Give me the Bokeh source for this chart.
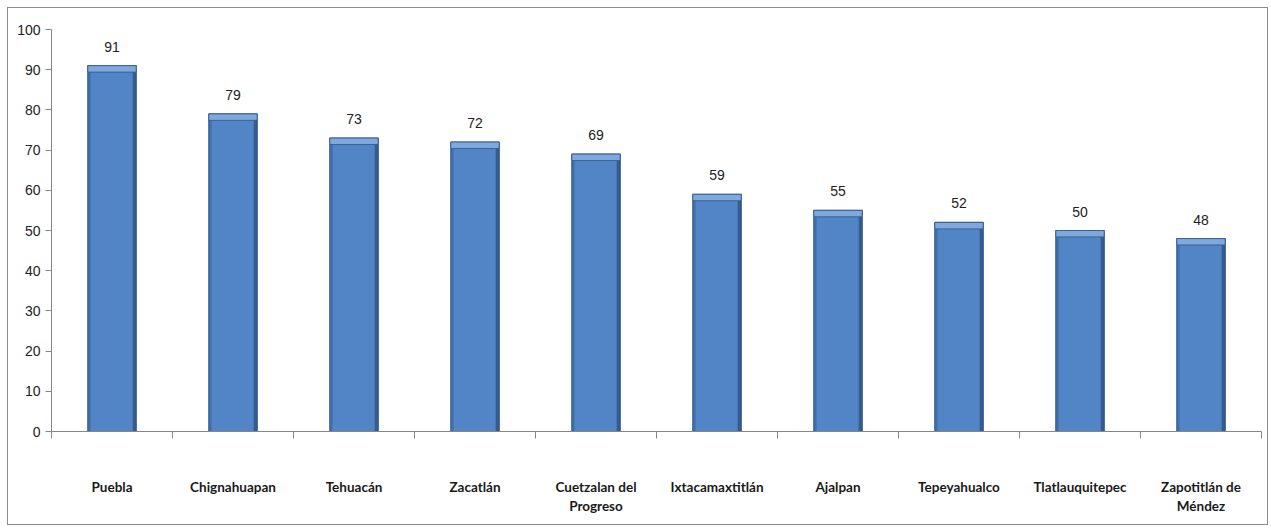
import numpy as np
from bokeh.plotting import figure
from bokeh.models import (Range1d, FixedTicker, LinearAxis, ColumnDataSource, LabelSet)
from bokeh.core.properties import value
from bokeh.embed import file_html
from bokeh.resources import INLINE

categories = ["Puebla", "Chignahuapan", "Tehuacán", "Zacatlán", "Cuetzalan del\nProgreso",
              "Ixtacamaxtitlán", "Ajalpan", "Tepeyahualco", "Tlatlauquitepec", "Zapotitlán de\nMéndez"]
values = [91, 79, 73, 72, 69, 59, 55, 52, 50, 48]
value_labels = [str(v) for v in values]
y_ticks = list(range(0, 101, 10))

n = len(categories)
xc = np.arange(n) + 0.5
vals = np.array(values, dtype=float)
bw = 0.4

src = ColumnDataSource(dict(
    x=xc, top=vals, bev=vals - 1.6,
    xl=xc - bw / 2 + 0.012, xr=xc + bw / 2 - 0.014,
    lab=value_labels,
))

p = figure(width=1261, height=518, output_backend="svg", toolbar_location=None,
           x_range=Range1d(0, n), y_range=Range1d(0, 100),
           min_border_left=43, min_border_right=8, min_border_top=21, min_border_bottom=95,
           x_axis_type=None, y_axis_type=None)
p.styles = {"border": "1px solid #8c8c8c", "box-sizing": "border-box", "margin": "7px 0 0 7px"}
p.outline_line_color = None
p.background_fill_color = "white"
p.border_fill_color = "white"

# y axis
ya = LinearAxis(ticker=FixedTicker(ticks=y_ticks))
ya.axis_line_color = "#868686"
ya.major_tick_line_color = "#868686"
ya.major_tick_out = 6
ya.major_tick_in = 0
ya.minor_tick_line_color = None
ya.major_label_text_font = "Liberation Sans"
ya.major_label_text_font_size = "14px"
ya.major_label_text_color = "#222222"
ya.major_label_standoff = 5
p.add_layout(ya, "left")

# x axis
xa = LinearAxis(ticker=FixedTicker(ticks=list(xc), minor_ticks=list(range(0, n + 1))))
xa.major_label_overrides = {float(x): c for x, c in zip(xc, categories)}
xa.axis_line_color = "#868686"
xa.major_tick_line_color = None
xa.minor_tick_line_color = "#868686"
xa.minor_tick_out = 7
xa.minor_tick_in = 0
xa.major_label_text_font = "Lato"
xa.major_label_text_font_style = "bold"
xa.major_label_text_font_size = "13.5px"
xa.major_label_text_color = "#1a1a1a"
xa.major_label_standoff = 40
p.add_layout(xa, "below")

p.ygrid.ticker = FixedTicker(ticks=y_ticks)
p.xgrid.visible = False
p.ygrid.grid_line_color = "#dcdcdc"
p.ygrid.grid_line_width = 1.5

# bars
p.vbar(x="x", top="top", bottom=0, width=bw, source=src,
       fill_color="#5185C6", line_color="#3A6395", line_width=1.2)
p.vbar(x="xr", top="top", bottom=0, width=0.03, source=src,
       fill_color="#2C4D7C", line_color=None, fill_alpha=0.75)
p.vbar(x="xl", top="top", bottom=0, width=0.022, source=src,
       fill_color="#3B659C", line_color=None, fill_alpha=0.7)
p.vbar(x="x", top="top", bottom="bev", width=bw, source=src,
       fill_color="#80A8DD", line_color="#3A6395", line_width=1)

labels = LabelSet(x="x", y="top", text="lab", source=src, y_offset=14,
                  text_align="center", text_baseline="bottom",
                  text_font=value("Liberation Sans"), text_font_size=value("14px"),
                  text_color="#222222")
p.add_layout(labels)

open("out.html", "w").write(file_html(p, INLINE))
